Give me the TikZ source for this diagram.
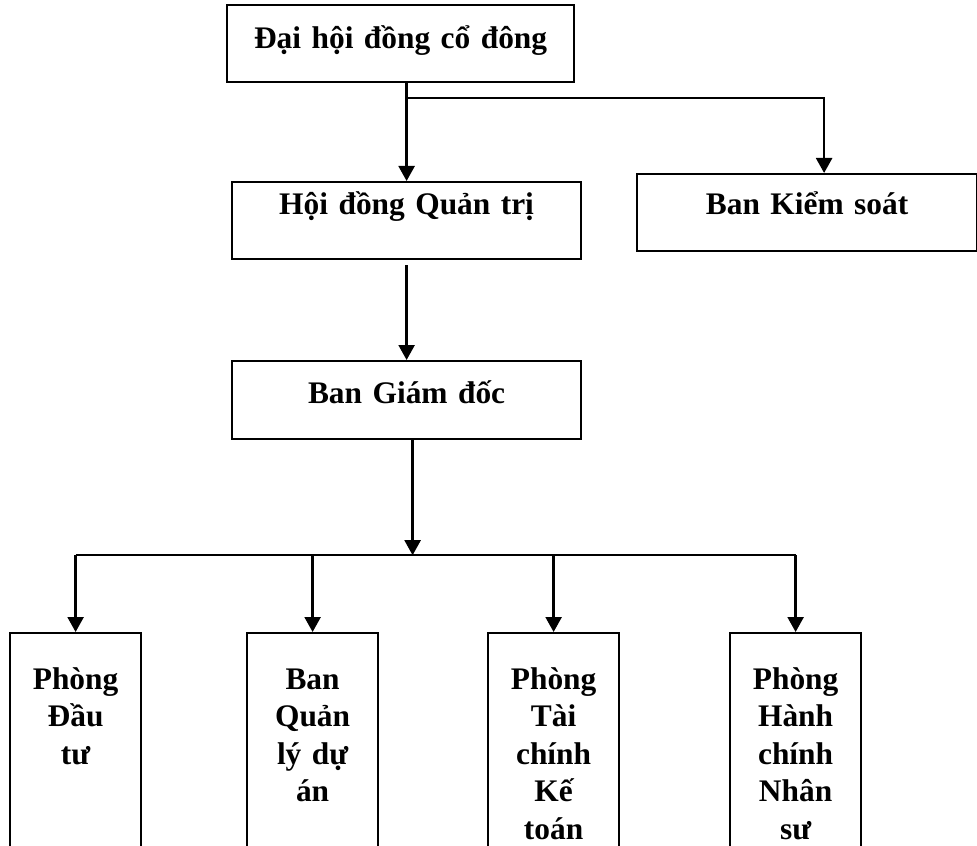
\documentclass[tikz,border=0pt]{standalone}
\usepackage{fontspec}
\setmainfont{Liberation Serif}
\usetikzlibrary{arrows.meta,calc}

\tikzset{
  box/.style={draw, line width=1.1pt, inner sep=0pt, anchor=north west, align=center,
    font=\fontsize{15.7}{18.75}\selectfont\bfseries},
  topbox/.style={box, text width=174.5pt, text height=#1, text depth=38.5pt-#1},
  unitbox/.style={box, text width=65.5pt, text height=28pt, text depth=150pt},
  link/.style={line width=1.2pt},
  arrow/.style={link, -{Triangle[width=8pt,length=7.5pt]}}
}

\begin{document}
\begin{tikzpicture}[x=0.5pt,y=-0.5pt]
	\useasboundingbox (0,0) rectangle (977,845);
	\clip (0,0) rectangle (977,845);

	% upper levels
	\node[topbox=21.5pt, text width=173.5pt] (dhdcd) at (226,4) {Đại hội đồng cổ đông};
	\node[topbox=16pt] (hdqt) at (231,181) {Hội đồng Quản trị};
	\node[topbox=20pt, text width=170pt] (bks) at (636,173) {Ban Kiểm soát};
	\node[topbox=21pt, text depth=18pt] (bgd) at (231,360) {Ban Giám đốc};

	% departments
	\node[unitbox] (p1) at (9,632) {Phòng\\Đầu\\tư};
	\node[unitbox] (p2) at (246,632) {Ban\\Quản\\lý dự\\án};
	\node[unitbox] (p3) at (487,632) {Phòng\\Tài\\chính\\Kế\\toán};
	\node[unitbox] (p4) at (729,632) {Phòng\\Hành\\chính\\Nhân\\sư};

	\coordinate (split) at ($(hdqt.north |- dhdcd.south)+(0,15)$);
	\coordinate (bus) at ($(bgd.south)+(6,115)$);

	\draw[arrow] (hdqt.north |- dhdcd.south) -- (hdqt.north);
	\draw[arrow] (split) -| ($(bks.north)+(17,0)$);
	\draw[arrow] ($(hdqt.south)+(0,5)$) -- (bgd.north);
	\draw[arrow] ($(bgd.south)+(6,0)$) -- (bus);
	\draw[link] (p1.north |- bus) -- (p4.north |- bus);
	\foreach \p in {p1,p2,p3,p4}
		\draw[arrow] (\p.north |- bus) -- (\p.north);
\end{tikzpicture}
\end{document}
